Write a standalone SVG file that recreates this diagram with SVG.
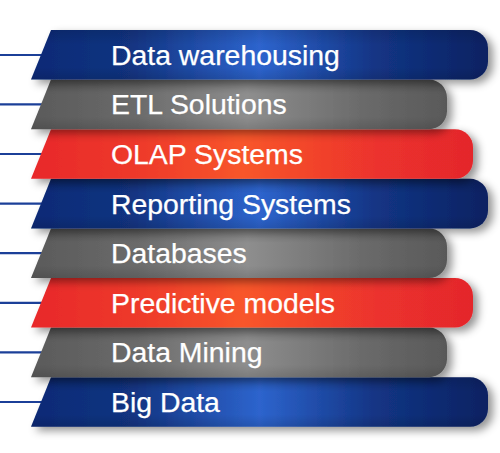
<svg xmlns="http://www.w3.org/2000/svg" width="500" height="453" viewBox="0 0 500 453">
<defs>
<linearGradient id="gBlue" x1="0" y1="0" x2="1" y2="0">
<stop offset="0" stop-color="#0b2a76"/>
<stop offset="0.22" stop-color="#123481"/>
<stop offset="0.5" stop-color="#2d64cd"/>
<stop offset="0.75" stop-color="#133585"/>
<stop offset="1" stop-color="#0a2262"/>
</linearGradient>
<linearGradient id="gGray" x1="0" y1="0" x2="1" y2="0">
<stop offset="0" stop-color="#5a5a5a"/>
<stop offset="0.25" stop-color="#6a6a6a"/>
<stop offset="0.52" stop-color="#8e8e8e"/>
<stop offset="0.8" stop-color="#6a6a6a"/>
<stop offset="1" stop-color="#595959"/>
</linearGradient>
<linearGradient id="gRed" x1="0" y1="0" x2="1" y2="0">
<stop offset="0" stop-color="#e8282b"/>
<stop offset="0.25" stop-color="#ee3a2c"/>
<stop offset="0.48" stop-color="#f8562a"/>
<stop offset="0.78" stop-color="#ec332d"/>
<stop offset="1" stop-color="#e4262c"/>
</linearGradient>
<linearGradient id="gShade" x1="0" y1="0" x2="0" y2="1">
<stop offset="0" stop-color="#000" stop-opacity="0.12"/>
<stop offset="0.3" stop-color="#000" stop-opacity="0"/>
<stop offset="0.75" stop-color="#000" stop-opacity="0"/>
<stop offset="1" stop-color="#000" stop-opacity="0.12"/>
</linearGradient>
<filter id="sh" x="-10%" y="-40%" width="125%" height="190%">
<feDropShadow dx="5" dy="4" stdDeviation="4.5" flood-color="#000" flood-opacity="0.42"/>
</filter>
</defs>
<style>
.lbl{font-family:"Liberation Sans",Arial,sans-serif;font-size:28.4px;fill:#ffffff;stroke:#ffffff;stroke-width:0.25}
.conn{stroke:#1b3f98;stroke-width:2.2;fill:none}
.blue{fill:url(#gBlue)}
.gray{fill:url(#gGray)}
.red{fill:url(#gRed)}
.band{filter:url(#sh)}
.shade{fill:url(#gShade)}
</style>
<rect width="500" height="453" fill="#ffffff"/>
<g id="connectors">
<line class="conn" x1="0" y1="55" x2="46" y2="55"/>
<line class="conn" x1="0" y1="104.4" x2="46" y2="104.4"/>
<line class="conn" x1="0" y1="154" x2="46" y2="154"/>
<line class="conn" x1="0" y1="203.6" x2="46" y2="203.6"/>
<line class="conn" x1="0" y1="253.2" x2="46" y2="253.2"/>
<line class="conn" x1="0" y1="302.8" x2="46" y2="302.8"/>
<line class="conn" x1="0" y1="352.4" x2="46" y2="352.4"/>
<line class="conn" x1="0" y1="402" x2="46" y2="402"/>
</g>
<g id="node-big-data">
<path class="band blue" d="M51,377.2 H470 A18,18 0 0 1 488,395.2 V408.8 A18,18 0 0 1 470,426.8 H31 Z"/>
<path class="shade" d="M51,377.2 H470 A18,18 0 0 1 488,395.2 V408.8 A18,18 0 0 1 470,426.8 H31 Z"/>
<text class="lbl" x="111" y="412">Big Data</text>
</g>
<g id="node-data-mining">
<path class="band gray" d="M51,327.6 H429 A18,18 0 0 1 447,345.6 V359.2 A18,18 0 0 1 429,377.2 H31 Z"/>
<path class="shade" d="M51,327.6 H429 A18,18 0 0 1 447,345.6 V359.2 A18,18 0 0 1 429,377.2 H31 Z"/>
<text class="lbl" x="111" y="362.4">Data Mining</text>
</g>
<g id="node-predictive-models">
<path class="band red" d="M51,278 H455 A18,18 0 0 1 473,296 V309.6 A18,18 0 0 1 455,327.6 H31 Z"/>
<text class="lbl" x="111" y="312.8">Predictive models</text>
</g>
<g id="node-databases">
<path class="band gray" d="M51,228.4 H429 A18,18 0 0 1 447,246.4 V260 A18,18 0 0 1 429,278 H31 Z"/>
<path class="shade" d="M51,228.4 H429 A18,18 0 0 1 447,246.4 V260 A18,18 0 0 1 429,278 H31 Z"/>
<text class="lbl" x="111" y="263.2">Databases</text>
</g>
<g id="node-reporting-systems">
<path class="band blue" d="M51,178.8 H470 A18,18 0 0 1 488,196.8 V210.4 A18,18 0 0 1 470,228.4 H31 Z"/>
<path class="shade" d="M51,178.8 H470 A18,18 0 0 1 488,196.8 V210.4 A18,18 0 0 1 470,228.4 H31 Z"/>
<text class="lbl" x="111" y="213.6">Reporting Systems</text>
</g>
<g id="node-olap-systems">
<path class="band red" d="M51,129.2 H455 A18,18 0 0 1 473,147.2 V160.8 A18,18 0 0 1 455,178.8 H31 Z"/>
<text class="lbl" x="111" y="164">OLAP Systems</text>
</g>
<g id="node-etl-solutions">
<path class="band gray" d="M51,79.6 H429 A18,18 0 0 1 447,97.6 V111.2 A18,18 0 0 1 429,129.2 H31 Z"/>
<path class="shade" d="M51,79.6 H429 A18,18 0 0 1 447,97.6 V111.2 A18,18 0 0 1 429,129.2 H31 Z"/>
<text class="lbl" x="111" y="114.4">ETL Solutions</text>
</g>
<g id="node-data-warehousing">
<path class="band blue" d="M51,30 H470 A18,18 0 0 1 488,48 V61.6 A18,18 0 0 1 470,79.6 H31 Z"/>
<path class="shade" d="M51,30 H470 A18,18 0 0 1 488,48 V61.6 A18,18 0 0 1 470,79.6 H31 Z"/>
<text class="lbl" x="111" y="64.8">Data warehousing</text>
</g>
</svg>
